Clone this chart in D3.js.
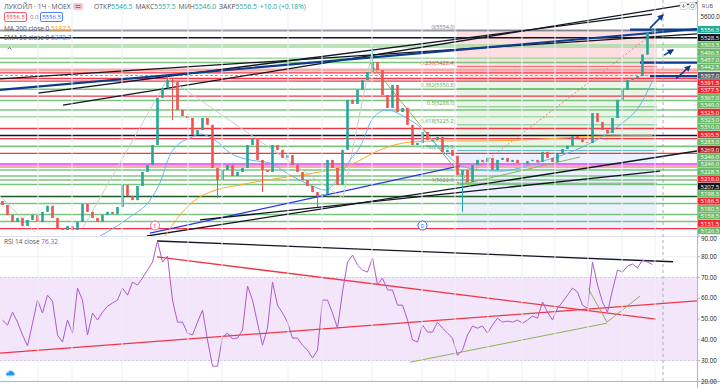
<!DOCTYPE html>
<html>
<head>
<meta charset="utf-8">
<script src="https://cdn.jsdelivr.net/npm/d3@7"></script>
<style>
  body { margin: 0; background: #fff; }
  svg { display: block; font-family: "Open Sans", "DejaVu Sans", sans-serif; }
</style>
</head>
<body>
<svg id="chart" width="720" height="388"></svg>
<script>
// LKOH 1H chart with levels, trend lines and RSI pane

// hourly closes, open = previous close
var closes = [4946, 4911, 4887, 4901, 4873, 4894, 4911, 4887, 4922, 4943,
  4901, 4866, 4859, 4873, 4859, 4887, 4950, 4922, 4901, 4887,
  4911, 4922, 4915, 4939, 5016, 4977, 4963, 5012, 5061, 5085,
  5155, 5319, 5354, 5381, 5374, 5277, 5256, 5249, 5190, 5207,
  5249, 5225, 5075, 5033, 5068, 5085, 5047, 5061, 5075, 5155,
  5179, 5103, 5068, 5061, 5155, 5138, 5110, 5120, 5085, 5061,
  5033, 5012, 4991, 4977, 4984, 5103, 5075, 5016, 5138, 5312,
  5298, 5347, 5381, 5409, 5444, 5416, 5329, 5284, 5364, 5270,
  5284, 5225, 5155, 5162, 5200, 5172, 5172, 5183, 5131, 5138,
  5117, 5051, 5068, 5026, 5085, 5103, 5096, 5110, 5068, 5103,
  5110, 5096, 5103, 5092, 5089, 5099, 5103, 5096, 5131, 5110,
  5096, 5124, 5141, 5152, 5186, 5179, 5165, 5162, 5266, 5235,
  5207, 5197, 5249, 5312, 5347, 5381, 5388, 5395, 5470, 5546.5, 5556.5];
var firstOpen = 4960;
// bars with visible wicks: index -> [high, low]
var wicks = { 33: [5395, 5354], 34: [5388, 5242], 43: [5075, 4970], 52: [5103, 4991],
  63: [4991, 4939], 74: [5496, 5409], 92: [5068, 4922], 130: [5557.5, 5546] };

var rsi = [49.5, 47.1, 53.3, 48.5, 42.3, 37, 48, 59.1, 52.9, 61.5,
  58.6, 42.3, 38.9, 49.5, 43.2, 64.9, 59.1, 42.3, 52.9, 49.5,
  53.3, 56.2, 57.7, 59.1, 64.9, 61.5, 67.8, 66.4, 69.7, 73.6,
  77.4, 87.6, 77.4, 80.3, 59.1, 48.5, 48.5, 43.2, 42.3, 48.5,
  54.3, 39.9, 27.3, 27.3, 41.3, 43.2, 40.4, 40.8, 44.7, 65.9,
  59.1, 48, 37.4, 45.6, 67.8, 56.7, 52.9, 48.5, 40.8, 40.8,
  37.4, 35, 31.2, 35, 59.1, 59.1, 52.9, 45.6, 63, 77.4,
  80.8, 76, 73.6, 72.6, 79.4, 66.4, 69.7, 64, 64, 56.7,
  56.7, 49.5, 39.9, 38.9, 47.1, 43.7, 43.7, 48.5, 45.6, 43.2,
  40.8, 32.6, 35, 42.3, 46.6, 45.6, 46.6, 43.2, 47.1, 50.4,
  48.5, 49, 48.5, 49.5, 48, 49.5, 51.4, 50.4, 58.2, 53.3,
  49.5, 55.2, 58.2, 61.5, 64.9, 63, 56.7, 55.2, 77.4, 66.4,
  58.2, 53.3, 64, 73.6, 72.6, 75.5, 76.5, 74.6, 78.4, 77.4, 76.32];

// moving averages: [bar index, value]
var ema50 = [[19.5, 4838], [25.5, 4904], [29.5, 4963], [31.5, 5023], [33.5, 5120], [35.5, 5162],
  [37.5, 5179], [39.5, 5193], [42.5, 5172], [45.5, 5127], [49.5, 5103], [53.5, 5092],
  [57.5, 5050], [61.5, 5016], [64.5, 4998], [66.9, 5033], [69.5, 5103], [71.5, 5148],
  [74.1, 5249], [76.9, 5277], [80.5, 5252], [83.5, 5218], [87.5, 5144], [91.5, 5085],
  [95.5, 5068], [99.5, 5064], [103.5, 5075], [107.5, 5096], [111.5, 5117], [115.5, 5144],
  [119.5, 5179], [123.5, 5225], [127.5, 5294], [130, 5378.7]];
var ma200 = [[32.5, 4838], [35.5, 4911], [38.5, 4963], [41.5, 4991], [47.5, 5016], [55.5, 5040],
  [63.5, 5061], [69.5, 5085], [75.5, 5138], [81.5, 5165], [87.5, 5169], [95.5, 5169],
  [103.5, 5172], [111.5, 5179], [119.5, 5186], [130, 5187.5]];

// horizontal levels: [price, kind]
var levels = [[5554, "fib0"], [5528.5, "k"], [5503.5, "lg"], [5496.5, "lg"], [5457, "lg"],
  [5442.5, "g"], [5416, "rs"], [5406, "r"], [5397, "dash"], [5386.5, "r"], [5377.5, "r"],
  [5349, "g"], [5325, "r"], [5310, "g"], [5277, "g"], [5253.5, "lg"], [5212.5, "r"],
  [5188, "k"], [5177.5, "r"], [5150, "g"], [5125.5, "r"], [5089, "m"], [5080, "rs"],
  [5068, "g"], [5047, "g"], [5033, "g"], [5017.5, "g"], [4975.5, "dg"], [4951, "g"],
  [4913, "g"], [4888.5, "g"], [4864, "r"]];

// trend lines: [kind, bar1, price1, bar2, price2]
var trends = [["k", 12.1, 5294, 138.9, 5650], ["k", 7.1, 5336, 129.9, 5611],
  ["k", -0.5, 5385, 138.9, 5542], ["n", -0.5, 5347, 138.9, 5559],
  ["b", 29.5, 4848, 91.5, 5082], ["k", 28.9, 4838, 138.9, 5134], ["k", 39.5, 4894, 131.5, 5064],
  ["gr", -0.5, 4977, 6.5, 4852], ["gr", 16.1, 4866, 33.1, 5388], ["gr", 33.1, 5388, 68.1, 4970],
  ["gr", 68.1, 4970, 74.1, 5496], ["ol", 73.5, 5441, 93.5, 5009], ["ol", 91.5, 5016, 115.5, 5113],
  ["n", 125.5, 5557, 138.9, 5557], ["n", 127.5, 5442, 138.9, 5442], ["n", 129.5, 5395, 138.9, 5395],
  ["fd", 90.9, 5022, 130.9, 5554]];
var arrows = [[129.5, 5562, 132.1, 5608], [132.3, 5468, 134.1, 5486], [134.7, 5385, 137.5, 5430]];

// fib retracement
var fibHigh = 5554, fibLow = 5022, fibFrom = 90.9, fibTo = 130.9;
var fibLevels = [0, 0.236, 0.382, 0.5, 0.618, 0.786, 1];
var fibZones = [[5554, 5385, "r"], [5385, 5150, "g"], [5150, 4864, "b"]];

var rsiTrends = [["k", 30.9, 87.6, 134.1, 77.6], ["r", 30.9, 79.9, 130.7, 50],
  ["r", -0.5, 33.6, 138.9, 58.7], ["ol", 81.5, 29.2, 120.9, 48],
  ["ol", 117.1, 64.9, 120.9, 48.5], ["ol", 120.9, 48.5, 127.5, 61.1]];

// price axis labels (stacked): [value, kind]
var axisLabels = [[5556.5, "cur"], [5528.5, "k"], [5503.5, "g"], [5496.5, "g"], [5457.0, "g"],
  [5442.5, "g"], [5397.0, "gray"], [5391.5, "r"], [5377.5, "r"], [5367.0, "g"], [5349.0, "g"],
  [5325.0, "r"], [5323.0, "g"], [5310.0, "g"], [5305.5, "r"], [5283.0, "g"], [5269.0, "dr"],
  [5246.0, "g"], [5246.0, "g"], [5228.5, "g"], [5218.0, "r"], [5207.5, "k"], [5198.5, "g"],
  [5186.5, "r"], [5180.5, "g"], [5158.5, "g"], [5131.5, "r"], [5126.5, "g"]];
var rsiTicks = [20, 30, 40, 50, 60, 70, 80, 90];
var gridBars = [7.1, 13.9, 23.9, 37.1, 43.9, 57.1, 63.9, 73.9, 83.9, 90.5, 97.1, 103.9, 110.5, 117.1, 123.9, 130.5];
var nowBar = 132.1;
var events = [[30.5, "E"], [84, "D"]];

var ohlc = ["ОТКР", "5546.5", "МАКС", "5557.5", "МИН", "5546.0", "ЗАКР", "5556.5", "+10.0 (+0.18%)"];

// ------------------------------------------------------------
var svg = d3.select("#chart"),
    plotR = 697, mainB = 236, rsiB = 381;

var x = d3.scaleLinear().domain([0, 130]).range([2.5, 652.5]);
var y = d3.scaleLinear().domain([4838, 5660]).range([mainB, 0]);
var yr = d3.scaleLinear().domain([20, 90]).range([381.3, 236]);

var kindColor = { k: "#131722", n: "#0d3c8c", b: "#2b35f0", gr: "#c9cbd1", ol: "#8db255",
  fd: "#f47c80", r: "#f23645", rs: "#f49a98", g: "#7cc47d", lg: "#a6d8a3", dg: "#1e5a22",
  m: "#e23ff0", dash: "#a0a3ab", fib0: "#9598a1" };
var kindWidth = { k: 1.3, n: 2.2, b: 1.3, gr: 1, ol: 1, fd: 1, r: 1.3, rs: 3, g: 1.6, lg: 1.6,
  dg: 1.6, m: 1.6, dash: 1, fib0: 2 };

var defs = svg.append("defs");
defs.append("clipPath").attr("id", "clipMain").append("rect")
    .attr("x", 0).attr("y", 0).attr("width", plotR).attr("height", mainB);
defs.append("clipPath").attr("id", "clipRsi").append("rect")
    .attr("x", 0).attr("y", mainB + 1).attr("width", plotR).attr("height", rsiB - mainB - 1);

var main = svg.append("g").attr("clip-path", "url(#clipMain)");
var lower = svg.append("g").attr("clip-path", "url(#clipRsi)");

// grid
gridBars.forEach(function (b) {
  svg.append("line").attr("x1", x(b)).attr("x2", x(b)).attr("y1", 0).attr("y2", rsiB)
     .attr("stroke", "#eef0f4").attr("stroke-width", 1);
});
rsiTicks.forEach(function (t) {
  lower.append("line").attr("x1", 0).attr("x2", plotR).attr("y1", yr(t)).attr("y2", yr(t))
       .attr("stroke", "#f0f2f6");
});

// fib zones
var fibColor = { r: "rgba(242,54,69,0.16)", g: "rgba(76,175,80,0.13)", b: "rgba(41,98,255,0.09)" };
fibZones.forEach(function (z) {
  main.append("rect").attr("x", x(fibFrom)).attr("width", x(fibTo) - x(fibFrom))
      .attr("y", y(z[0])).attr("height", y(z[1]) - y(z[0]))
      .attr("fill", fibColor[z[2]]);
});

// levels
levels.forEach(function (l) {
  main.append("line").attr("x1", 0).attr("x2", plotR).attr("y1", y(l[0])).attr("y2", y(l[0]))
      .attr("stroke", kindColor[l[1]]).attr("stroke-width", kindWidth[l[1]])
      .attr("stroke-dasharray", l[1] === "dash" ? "3,2" : null)
      .attr("opacity", l[1] === "rs" ? 0.8 : 1);
});

// fib level lines and labels
var fibTextColor = ["#787b86", "#f23645", "#4caf50", "#4caf50", "#4caf50", "#26a69a", "#787b86"];
fibLevels.forEach(function (f, k) {
  var p = fibHigh - f * (fibHigh - fibLow);
  main.append("line").attr("x1", x(fibFrom)).attr("x2", x(fibTo)).attr("y1", y(p)).attr("y2", y(p))
      .attr("stroke", fibTextColor[k]).attr("stroke-width", 1).attr("opacity", 0.7);
  main.append("text").attr("x", x(fibFrom) - 2).attr("y", y(p) - 1.5)
      .attr("text-anchor", "end").attr("font-size", 5.5).attr("fill", fibTextColor[k])
      .text(f + "(" + p.toFixed(1) + ")");
});

// trend lines
trends.forEach(function (t) {
  main.append("line").attr("x1", x(t[1])).attr("y1", y(t[2])).attr("x2", x(t[3])).attr("y2", y(t[4]))
      .attr("stroke", kindColor[t[0]]).attr("stroke-width", kindWidth[t[0]])
      .attr("stroke-dasharray", t[0] === "fd" ? "2,2" : null);
});
defs.append("marker").attr("id", "arrowHead").attr("viewBox", "0 0 10 10").attr("refX", 8).attr("refY", 5)
    .attr("markerWidth", 4).attr("markerHeight", 4).attr("orient", "auto")
    .append("path").attr("d", "M0,0L10,5L0,10z").attr("fill", "#0d3c8c");
arrows.forEach(function (a) {
  svg.append("line").attr("x1", x(a[0])).attr("y1", y(a[1])).attr("x2", x(a[2])).attr("y2", y(a[3]))
     .attr("stroke", "#0d3c8c").attr("stroke-width", 1.6).attr("marker-end", "url(#arrowHead)");
});

// moving averages
var maLine = d3.line().x(function (d) { return x(d[0]); }).y(function (d) { return y(d[1]); })
  .curve(d3.curveMonotoneX);
main.append("path").attr("d", maLine(ma200)).attr("fill", "none").attr("stroke", "#ffa726").attr("stroke-width", 1);
main.append("path").attr("d", maLine(ema50)).attr("fill", "none").attr("stroke", "#64b5f6").attr("stroke-width", 1);

// candles
var bars = closes.map(function (c, i) {
  var o = i === 0 ? firstOpen : closes[i - 1];
  var w = wicks[i] || [Math.max(o, c), Math.min(o, c)];
  return { i: i, o: o, c: c, h: w[0], l: w[1] };
});
var cg = main.append("g");
cg.selectAll("line").data(bars).enter().append("line")
  .attr("x1", function (d) { return x(d.i); }).attr("x2", function (d) { return x(d.i); })
  .attr("y1", function (d) { return y(d.h); }).attr("y2", function (d) { return y(d.l); })
  .attr("stroke", function (d) { return d.c >= d.o ? "#26a69a" : "#ef5350"; });
cg.selectAll("rect").data(bars).enter().append("rect")
  .attr("x", function (d) { return x(d.i) - 1.3; }).attr("width", 2.6)
  .attr("y", function (d) { return y(Math.max(d.o, d.c)); })
  .attr("height", function (d) { return Math.max(1, Math.abs(y(d.o) - y(d.c))); })
  .attr("fill", function (d) { return d.c >= d.o ? "#26a69a" : "#ef5350"; });

// event markers
events.forEach(function (e) {
  var col = e[1] === "E" ? "#f06292" : "#2962ff";
  svg.append("circle").attr("cx", x(e[0])).attr("cy", 225.5).attr("r", 4.5)
     .attr("fill", "#fff").attr("stroke", col).attr("stroke-width", 1);
  svg.append("text").attr("x", x(e[0])).attr("y", 227.5).attr("text-anchor", "middle")
     .attr("font-size", 5).attr("fill", col).text(e[1]);
});

// pane separator
svg.append("line").attr("x1", 0).attr("x2", 720).attr("y1", mainB + 0.5).attr("y2", mainB + 0.5)
   .attr("stroke", "#e0e3eb");

// RSI pane
lower.append("rect").attr("x", 0).attr("width", plotR).attr("y", yr(70)).attr("height", yr(30) - yr(70))
     .attr("fill", "#f3e6fb");
[70, 30].forEach(function (t) {
  lower.append("line").attr("x1", 0).attr("x2", plotR).attr("y1", yr(t)).attr("y2", yr(t))
       .attr("stroke", "#d6c4e6").attr("stroke-dasharray", "2,2");
});
rsiTrends.forEach(function (t) {
  lower.append("line").attr("x1", x(t[1])).attr("y1", yr(t[2])).attr("x2", x(t[3])).attr("y2", yr(t[4]))
       .attr("stroke", kindColor[t[0]]).attr("stroke-width", t[0] === "ol" ? 1 : 1.3);
});
var rsiLine = d3.line().x(function (d, i) { return x(i); }).y(function (d) { return yr(d); });
lower.append("path").attr("d", rsiLine(rsi)).attr("fill", "none").attr("stroke", "#ab5ccc").attr("stroke-width", 1);

// cloud icon bottom-left
svg.append("circle").attr("cx", 10).attr("cy", 374).attr("r", 4.5).attr("fill", "#e3f2fd");
svg.append("path").attr("d", "M7,375.5h6a1.6,1.6 0 0 0 0,-3.2a2.4,2.4 0 0 0 -4.6,0.4a1.4,1.4 0 0 0 -1.4,2.8z")
   .attr("fill", "#2196f3");

// now line
svg.append("line").attr("x1", x(nowBar)).attr("x2", x(nowBar)).attr("y1", 0).attr("y2", rsiB)
   .attr("stroke", "#9598a1").attr("stroke-dasharray", "3,3").attr("stroke-width", 0.8);

// right axes
svg.append("line").attr("x1", plotR + 0.5).attr("x2", plotR + 0.5).attr("y1", 0).attr("y2", 388)
   .attr("stroke", "#b2b5be");
svg.append("line").attr("x1", 0).attr("x2", 720).attr("y1", rsiB + 0.5).attr("y2", rsiB + 0.5)
   .attr("stroke", "#b2b5be");

var labelBg = { cur: "#22ab94", k: "#131722", g: "#6cbb6a", r: "#f7252f", gray: "#5d606b", dr: "#a11d25" };
var prevY = -10, lh = 7.4;
axisLabels.forEach(function (a) {
  var cy = Math.max(y(a[0]), prevY + lh);
  prevY = cy;
  svg.append("rect").attr("x", plotR + 1).attr("y", cy - lh / 2).attr("width", 24).attr("height", lh - 0.4)
     .attr("fill", labelBg[a[1]]);
  svg.append("text").attr("x", plotR + 3.5).attr("y", cy + 2.1).attr("font-size", 6)
     .attr("fill", "#fff").text(a[0].toFixed(1));
});
svg.append("text").attr("x", plotR + 3.5).attr("y", y(5600) + 2.2).attr("font-size", 6.2)
   .attr("fill", "#131722").text("5600.0");
// top-right buttons and currency
[680, 689].forEach(function (bx) {
  svg.append("rect").attr("x", bx).attr("y", 2.5).attr("width", 7).attr("height", 7).attr("rx", 1.5)
     .attr("fill", "#fff").attr("stroke", "#b2b5be").attr("stroke-width", 0.6);
});
svg.append("path").attr("d", "M683.5,4v3.5M682,5.8l1.5,1.5l1.5,-1.5").attr("fill", "none").attr("stroke", "#50535e").attr("stroke-width", 0.6);
svg.append("circle").attr("cx", 692.5).attr("cy", 6).attr("r", 1.8).attr("fill", "none").attr("stroke", "#50535e").attr("stroke-width", 0.6);
svg.append("text").attr("x", 702).attr("y", 7.5).attr("font-size", 5.5).attr("fill", "#50535e").text("RUB");

rsiTicks.forEach(function (t) {
  svg.append("line").attr("x1", plotR).attr("x2", plotR + 3).attr("y1", yr(t)).attr("y2", yr(t)).attr("stroke", "#b2b5be");
  svg.append("text").attr("x", plotR + 4).attr("y", yr(t) + (t === 90 ? 4.5 : 2.2)).attr("font-size", 6.2)
     .attr("fill", "#131722").text(t.toFixed(2));
});

// headers
var hdr = svg.append("text").attr("x", 4).attr("y", 8.5).attr("font-size", 6.8).attr("fill", "#50535e");
hdr.append("tspan").text("ЛУКОЙЛ · 1Ч · MOEX");
svg.append("rect").attr("x", 73).attr("y", 3).attr("width", 10).attr("height", 7).attr("rx", 2).attr("fill", "#f8c6d2");
svg.append("path").attr("d", "M75.5,5.5h5M75.5,7.5h5").attr("stroke", "#e91e63").attr("stroke-width", 0.8);
var oh = svg.append("text").attr("x", 94).attr("y", 8.5).attr("font-size", 6.8);
ohlc.forEach(function (s, k) {
  oh.append("tspan").attr("fill", k % 2 === 0 && k < 8 ? "#50535e" : "#26a69a").attr("dx", k % 2 === 0 && k > 0 ? 3 : 0).text(s);
});
svg.append("rect").attr("x", 4.5).attr("y", 12.5).attr("width", 22).attr("height", 9).attr("rx", 1.5)
   .attr("fill", "#fff").attr("stroke", "#f23645").attr("stroke-width", 0.8);
svg.append("text").attr("x", 15.5).attr("y", 19).attr("text-anchor", "middle").attr("font-size", 6).attr("fill", "#f23645").text("5556.5");
svg.append("text").attr("x", 30).attr("y", 19).attr("font-size", 6).attr("fill", "#787b86").text("0.0");
svg.append("rect").attr("x", 40.5).attr("y", 12.5).attr("width", 22).attr("height", 9).attr("rx", 1.5)
   .attr("fill", "#fff").attr("stroke", "#2962ff").attr("stroke-width", 0.8);
svg.append("text").attr("x", 51.5).attr("y", 19).attr("text-anchor", "middle").attr("font-size", 6).attr("fill", "#2962ff").text("5556.5");
var ma1 = svg.append("text").attr("x", 4).attr("y", 31).attr("font-size", 6.5);
ma1.append("tspan").attr("fill", "#50535e").text("MA 200 close 0 ");
ma1.append("tspan").attr("fill", "#ff9800").text("5187.5");
var ma2 = svg.append("text").attr("x", 4).attr("y", 40).attr("font-size", 6.5);
ma2.append("tspan").attr("fill", "#50535e").text("EMA 50 close 0 ");
ma2.append("tspan").attr("fill", "#2196f3").text("5378.7");
svg.append("path").attr("d", "M7.5,49.5l2,-2l2,2").attr("fill", "none").attr("stroke", "#50535e").attr("stroke-width", 0.7);
var rh = svg.append("text").attr("x", 4).attr("y", 244).attr("font-size", 6.5);
rh.append("tspan").attr("fill", "#50535e").text("RSI 14 close ");
rh.append("tspan").attr("fill", "#ab47bc").text("76.32");
</script>
</body>
</html>
